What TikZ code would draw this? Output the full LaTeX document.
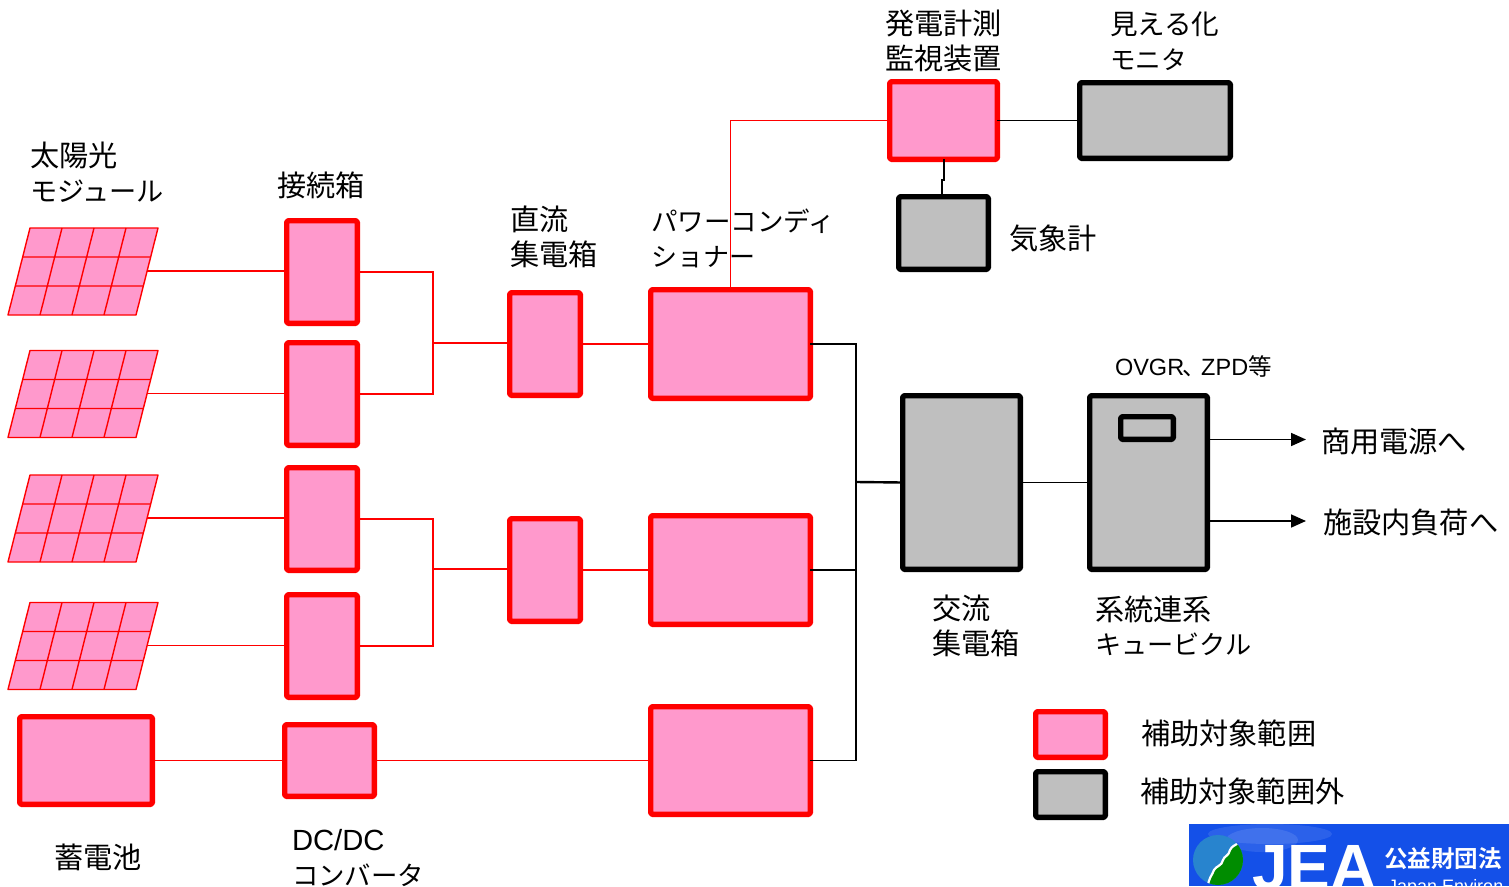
\documentclass[tikz,border=0pt]{standalone}
\usepackage{fontspec}
\setmainfont{Noto Sans CJK JP}
\newfontfamily\lat{Liberation Sans}
\newfontfamily\latb{Liberation Sans Bold}
\newfontfamily\jpb{Noto Sans CJK JP Bold}
\usetikzlibrary{arrows.meta,calc}
\definecolor{pinkfill}{HTML}{FF99CC}
\definecolor{grayfill}{HTML}{BFBFBF}
\definecolor{jeablue}{HTML}{1450E8}
\tikzset{
  x=1pt,y=-1pt,
  boxbase/.style={rectangle,inner sep=0pt,outer sep=0pt,rounded corners=1.5pt,line join=round},
  redbox/.style={boxbase,draw=red,fill=pinkfill,line width=5.4pt},
  graybox/.style={boxbase,draw=black,fill=grayfill,line width=5.4pt},
  redline/.style={draw=red,line width=1.7pt},
  blackline/.style={draw=black,line width=1.7pt},
  feed/.style={blackline,-{Triangle[length=15pt,width=13pt]}},
  lbl/.style={anchor=west,align=left,inner sep=0pt,outer sep=0pt,text=black,font=\fontsize{29.2}{34.5}\selectfont},
  lblsmall/.style={lbl,font=\fontsize{23.5}{28}\selectfont},
  panelcell/.style={draw=red,line width=1.4pt,fill=pinkfill,line join=round},
}
\newcommand{\sz}[2]{{\fontsize{#1}{34.5}\selectfont #2}}
% box from outer edges: name, x1, y1, x2, y2, style
\newcommand{\bx}[6]{%
  \pgfmathsetmacro{\cxx}{(#2+#4)/2}%
  \pgfmathsetmacro{\cyy}{(#3+#5)/2}%
  \pgfmathsetmacro{\wdd}{#4-#2-3.4}%
  \pgfmathsetmacro{\htt}{#5-#3-3.4}%
  \node[#6,minimum width=\wdd pt,minimum height=\htt pt] (#1) at (\cxx,\cyy) {};%
}
% solar panel: name, y offset
\newcommand{\panel}[2]{%
  \begin{scope}[yshift=-#2pt]
    \path[panelcell] (30,228) -- (158,228) -- (136,315) -- (8,315) -- cycle;
    \draw[panelcell,fill=none] (23,257) -- (150,257) (15.5,286) -- (143,286)
      (62,228) -- (40,315) (94,228) -- (72,315) (126,228) -- (104,315);
    \coordinate (#1) at (147,271);
  \end{scope}%
}
\begin{document}
\begin{tikzpicture}
\useasboundingbox (0,0) rectangle (1509,886);
% panels
\panel{p1}{0}
\panel{p2}{122.5}
\panel{p3}{247}
\panel{p4}{374.5}
\bx{b1}{285}{219}{359}{325}{redbox}
\bx{b2}{285}{341}{359}{447}{redbox}
\bx{b3}{285}{466}{359}{572}{redbox}
\bx{b4}{285}{593}{359}{699}{redbox}
\bx{cb1}{508}{291}{582}{397}{redbox}
\bx{cb2}{508}{517}{582}{623}{redbox}
\bx{pc1}{649}{288}{812}{400}{redbox}
\bx{pc2}{649}{514}{812}{626}{redbox}
\bx{pc3}{649}{705}{812}{816}{redbox}
\bx{bat}{18}{715}{154}{806}{redbox}
\bx{dc}{283}{723}{376}{798}{redbox}
\bx{mon}{888}{80}{999}{161}{redbox}
\bx{vis}{1078}{81}{1232}{160}{graybox}
\bx{wx}{897}{195}{990}{271}{graybox}
\bx{acb}{901}{394}{1022}{571}{graybox}
\bx{cub}{1088}{394}{1209}{571}{graybox}
\bx{rel}{1119}{415}{1175}{441}{graybox}
\bx{lg1}{1034}{710}{1107}{759}{redbox}
\bx{lg2}{1034}{770}{1107}{819}{graybox}
\coordinate (busa) at (433,343);
\coordinate (busb) at (433,569);
\coordinate (busc) at (856,482);
\coordinate (o1) at (1306,439.5);
\coordinate (o2) at (1306,521);
\coordinate (k1) at (944,180);
\coordinate (k2) at (942,180);
% labels (under the connectors: the red riser crosses a label)
\node[lbl] (tPanel) at (30,172) {太陽光\\\sz{27.2}{モジュール}};
\node[lbl] (tBox) at (277,185) {接続箱};
\node[lbl] (tCb) at (510,237) {直流\\集電箱};
\node[lbl] (tPc) at (651,238.5) {\sz{26.5}{パワーコンディ}\\\sz{26}{ショナー}};
\node[lbl] (tMon) at (885,41) {発電計測\\監視装置};
\node[lbl] (tVis) at (1110,41) {\sz{27.6}{見える化}\\\sz{25.5}{モニタ}};
\node[lbl] (tWx) at (1009,238) {気象計};
\node[lblsmall] (tOv) at (1115,366) {{\lat OVGR}\kern-2pt、\kern-4.5pt{\lat ZPD}等};
\node[lbl] (tO1) at (1321,441) {商用電源へ};
\node[lbl] (tO2) at (1323,522) {施設内負荷へ};
\node[lbl] (tAc) at (932,626) {交流\\集電箱};
\node[lbl] (tCu) at (1095,626) {系統連系\\\sz{26.2}{キュービクル}};
\node[lbl] (tL1) at (1141,733) {補助対象範囲};
\node[lbl] (tL2) at (1140,791) {補助対象範囲外};
\node[lbl] (tBat) at (54,857) {蓄電池};
\node[lbl] (tDc) at (292,858) {{\lat DC/DC}\\\sz{26.4}{コンバータ}};
% connectors
\draw[redline] (p1) -- (p1 -| b1.west);
\draw[redline] (p2) -- (p2 -| b2.west);
\draw[redline] (p3) -- (p3 -| b3.west);
\draw[redline] (p4) -- (p4 -| b4.west);
\draw[redline] (b1.east) -- (b1.east -| busa) -- (b2.east -| busa) -- (b2.east);
\draw[redline] (b3.east) -- (b3.east -| busb) -- (b4.east -| busb) -- (b4.east);
\draw[redline] (busa) -- (busa -| cb1.west);
\draw[redline] (busb) -- (busb -| cb2.west);
\draw[redline] (cb1.east) -- (cb1.east -| pc1.west);
\draw[redline] (cb2.east) -- (cb2.east -| pc2.west);
\draw[redline] (pc1.north) |- (mon.west);
\draw[redline] (bat.east) -- (dc.west);
\draw[redline] (dc.east) -- (dc.east -| pc3.west);
\draw[blackline] (mon.east) -- (vis.west);
\draw[blackline] (k1 |- mon.south) -- (k1) -- (k2) -- (k2 |- wx.north);
\draw[blackline] (pc1.east) -- (pc1.east -| busc) -- (pc3.east -| busc) -- (pc3.east);
\draw[blackline] (pc2.east) -- (pc2.east -| busc);
\draw[blackline,line width=2.4pt] (busc) -- (acb.west);
\draw[blackline] (acb.east) -- (cub.west);
\draw[feed] (o1 -| cub.east) -- (o1);
\draw[feed] (o2 -| cub.east) -- (o2);
% logo
\begin{scope}
  \clip (1189,824) rectangle (1509,886);
  \fill[jeablue] (1189,824) rectangle (1509,886);
  \fill[white,opacity=.10] (1270,834) ellipse (62 and 10);
  \fill[white,opacity=.10] (1262,840) ellipse (36 and 12);
  \fill[cyan!60!blue!90!white] (1218,860) circle (25);
  \begin{scope}
    \clip (1218,860) circle (25);
    \fill[green!55!black,draw=white,line width=2.2pt]
      (1240,842) .. controls (1234,846) and (1232,846) .. (1230,850)
      .. controls (1229,856) and (1224,856) .. (1223,860)
      .. controls (1222,866) and (1216,866) .. (1214,870)
      .. controls (1212,876) and (1208,878) .. (1208,888)
      -- (1250,888) -- (1250,842) -- cycle;
  \end{scope}
  \node[anchor=base west,inner sep=0pt,text=white,font=\latb\fontsize{64}{64}\selectfont] (tJea) at (1252,889) {JEA};
  \node[anchor=base west,inner sep=0pt,text=white,font=\jpb\fontsize{23.5}{24}\selectfont] (tJp) at (1384,867) {公益財団法};
  \node[anchor=base west,inner sep=0pt,text=white,font=\lat\fontsize{18}{18}\selectfont] (tEn) at (1388,892) {Japan Environ};
\end{scope}
\end{tikzpicture}
\end{document}
